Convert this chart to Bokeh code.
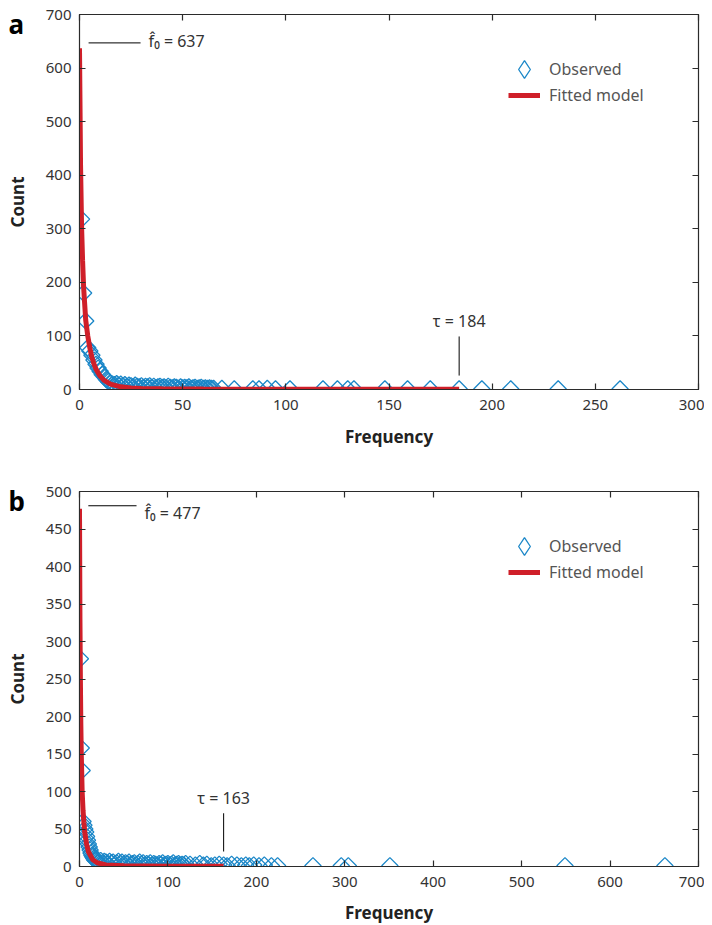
import numpy as np
from bokeh.plotting import figure
from bokeh.models import LinearAxis, Label, Legend, LegendItem, Range1d, FixedTicker, Title
from bokeh.layouts import column
from bokeh.embed import file_html
from bokeh.resources import INLINE

# ---------------- data: panel a ----------------
a_freq = [1, 2, 3, 4, 5, 6, 7, 8, 9, 10, 11, 12, 13, 14, 15,
          16, 17, 18, 19, 20, 21, 22, 23, 24, 25, 26, 27, 28, 29, 30,
          31, 32, 33, 34, 35, 36, 37, 38, 39, 40, 41, 42, 43, 44, 45,
          46, 47, 48, 49, 50, 51, 52, 53, 54, 55, 56, 57, 58, 59, 60,
          61, 62, 63, 64, 65,
          69, 75, 84, 87, 91, 95, 102, 118, 125, 130, 133, 148, 159, 170, 184, 195, 209, 232, 262]
a_count = [318, 180, 128, 78, 72, 64, 55, 47, 40, 34, 28, 24, 19, 15, 12,
           10, 9, 11, 8, 10, 7, 9, 6, 8, 7, 5, 8, 6, 5, 7,
           4, 6, 5, 7, 4, 6, 3, 5, 6, 4, 5, 3, 6, 4, 3,
           5, 4, 2, 5, 3, 4, 3, 5, 2, 3, 4, 2, 3, 4, 2,
           3, 2, 3, 2, 2,
           2, 1, 1, 1, 2, 1, 1, 1, 1, 1, 1, 1, 1, 1, 1, 1, 1, 1, 1]
a_fit_x = [0, 0.5, 1, 1.5, 2, 3, 4, 5, 6, 7, 8, 10, 12, 15, 20, 25, 30, 40, 60, 100, 184]
a_fit_y = [637, 420, 305, 240, 190, 130, 100, 78, 60, 48, 38, 25, 17, 10, 5, 3, 2, 1.2, 0.8, 0.5, 0.3]
a_f0 = 637
a_tau = 184
a_xticks = [0, 50, 100, 150, 200, 250, 300]
a_yticks = [0, 100, 200, 300, 400, 500, 600, 700]

# ---------------- data: panel b ----------------
b_freq = [1, 2, 3, 4, 5, 6, 7, 8, 9, 10, 11, 12, 13, 14, 15, 16, 17, 18, 19, 20,
          22, 24, 26, 28, 30, 32, 34, 36, 38, 40, 42, 44, 46, 48, 50, 52, 54, 56, 58, 60,
          62, 64, 66, 68, 70, 72, 74, 76, 78, 80, 82, 84, 86, 88, 90, 92, 94, 96, 98, 100,
          102, 104, 106, 108, 110, 112, 114, 116, 118, 120,
          125, 131, 136, 140, 144, 149, 153, 158, 163, 167, 172, 178, 183, 188, 192, 197,
          203, 209, 217, 224,
          264, 296, 304, 351, 549, 662]
b_count = [277, 158, 128, 60, 55, 50, 46, 40, 35, 30, 26, 22, 18, 15, 13, 11, 9, 8, 10, 7,
           6, 8, 5, 7, 6, 4, 7, 5, 6, 3, 5, 7, 4, 6, 3, 5, 4, 6, 3, 4,
           5, 2, 4, 6, 3, 5, 2, 4, 3, 5, 2, 4, 3, 2, 4, 3, 5, 2, 3, 4,
           2, 3, 5, 2, 3, 4, 2, 3, 2, 4,
           3, 2, 4, 2, 3, 1, 2, 3, 2, 1, 3, 2, 1, 2, 1, 2,
           1, 2, 1, 1,
           1, 1, 1, 1, 1, 1]
b_fit_x = [0, 0.5, 1, 1.5, 2, 3, 4, 5, 6, 8, 10, 15, 20, 30, 50, 100, 163]
b_fit_y = [477, 330, 250, 190, 150, 100, 75, 58, 45, 30, 20, 9, 5, 2, 1, 0.5, 0.3]
b_f0 = 477
b_tau = 163
b_xticks = [0, 100, 200, 300, 400, 500, 600, 700]
b_yticks = [0, 50, 100, 150, 200, 250, 300, 350, 400, 450, 500]

FONT = "Noto Sans"
BLUE = "#1b87c8"
RED = "#cf1f29"
DARK = "#2b2b2b"


def legend_box(items, location, glyph_w, glyph_h, standoff):
    return Legend(items=items, location=location, padding=0, margin=0, spacing=0,
                  glyph_width=glyph_w, glyph_height=glyph_h, label_standoff=standoff,
                  border_line_color=None, background_fill_alpha=0,
                  label_text_font=FONT, label_text_font_size="16px",
                  label_text_color="#555555")


def make_panel(letter, freq, count, fit_x, fit_y, f0, tau, xmax, ymax, xticks, yticks,
               height, top_b, bottom_b, f0_line, f0_text, tau_line, tau_text,
               xlab_standoff):
    p = figure(frame_width=619, frame_height=375, height=height, width=704,
               x_range=Range1d(0, xmax), y_range=Range1d(0, ymax),
               output_backend="svg", toolbar_location=None, tools="",
               min_border_left=79, min_border_right=6,
               min_border_top=top_b, min_border_bottom=bottom_b)
    p.xgrid.visible = False
    p.ygrid.visible = False
    p.outline_line_color = DARK
    p.outline_line_width = 1.2
    p.background_fill_color = "white"
    p.border_fill_color = "white"

    for ax, ticks in ((p.xaxis[0], xticks), (p.yaxis[0], yticks)):
        ax.ticker = FixedTicker(ticks=ticks)
        ax.major_tick_in = 6
        ax.major_tick_out = 0
        ax.minor_tick_line_color = None
        ax.axis_line_color = DARK
        ax.major_tick_line_color = DARK
        ax.major_tick_line_width = 1.2
        ax.major_label_text_font = FONT
        ax.major_label_text_font_size = "15px"
        ax.major_label_text_color = "#333333"
        ax.axis_label_text_font = FONT
        ax.axis_label_text_font_size = "17px"
        ax.axis_label_text_font_style = "bold"
        ax.axis_label_text_color = "#222222"
    p.xaxis.axis_label = "Frequency"
    p.yaxis.axis_label = "Count"
    p.xaxis.major_label_standoff = 10
    p.xaxis.axis_label_standoff = xlab_standoff
    p.yaxis.major_label_standoff = 8
    p.yaxis.axis_label_standoff = 14

    # mirrored ticks on top and right (no labels drawn)
    for loc, ticks in (("above", xticks), ("right", yticks)):
        ax = LinearAxis(ticker=FixedTicker(ticks=ticks), major_tick_in=6, major_tick_out=0,
                        minor_tick_line_color=None, axis_line_color=DARK,
                        major_tick_line_color=DARK, major_tick_line_width=1.2,
                        major_label_text_font_size="0px", major_label_text_color=None,
                        major_label_standoff=0)
        p.add_layout(ax, loc)

    r_obs = p.scatter(freq, count, marker="square", angle=np.pi / 4, size=11.5,
                      fill_color=None, line_color=BLUE, line_width=1.3)
    r_fit = p.line(fit_x, fit_y, line_color=RED, line_width=5)
    # legend proxy for the diamond symbol (not drawn in the plot)
    r_leg = p.scatter(x=[np.nan], y=[np.nan], marker="diamond", size=17,
                      fill_color=None, line_color=BLUE, line_width=1.3)

    leg_obs = legend_box([LegendItem(label="Observed", renderers=[r_leg])],
                         (423, 298), 44, 44, 3)
    leg_fit = legend_box([LegendItem(label="Fitted model", renderers=[r_fit])],
                         (429, 283), 32, 20, 9)
    p.add_layout(leg_obs)
    p.add_layout(leg_fit)

    # f0 annotation
    p.line(f0_line[0], [f0_line[1], f0_line[1]], line_color="black", line_width=1)
    p.add_layout(Label(x=f0_text[0], y=f0_text[1], text=f"f\u0302\u2080 = {f0}",
                       text_font=FONT, text_font_size="16px", text_color="#333333",
                       text_baseline="middle", text_align="left"))
    # tau annotation
    p.line([tau, tau], tau_line, line_color="black", line_width=1)
    p.add_layout(Label(x=tau, y=tau_text, text=f"\u03c4 = {tau}",
                       text_font=FONT, text_font_size="16px", text_color="#333333",
                       text_baseline="middle", text_align="center"))
    # panel letter (title placed to the left of the frame)
    p.add_layout(Title(text=letter, align="left", offset=-71, standoff=-54,
                       text_font=FONT, text_font_size="26px",
                       text_font_style="bold", text_color="black"), "above")
    return p


pa = make_panel("a", a_freq, a_count, a_fit_x, a_fit_y, a_f0, a_tau, 300, 700,
                a_xticks, a_yticks, height=481, top_b=14, bottom_b=92,
                f0_line=([4.4, 29.6], 647), f0_text=(33.5, 650),
                tau_line=[26, 99], tau_text=127, xlab_standoff=12)
pb = make_panel("b", b_freq, b_count, b_fit_x, b_fit_y, b_f0, b_tau, 700, 500,
                b_xticks, b_yticks, height=442, top_b=10, bottom_b=57,
                f0_line=([10, 64.5], 481), f0_text=(73.5, 471),
                tau_line=[20, 71], tau_text=91, xlab_standoff=11)

layout = column(pa, pb, spacing=0)
open("out.html", "w").write(file_html(layout, INLINE))
